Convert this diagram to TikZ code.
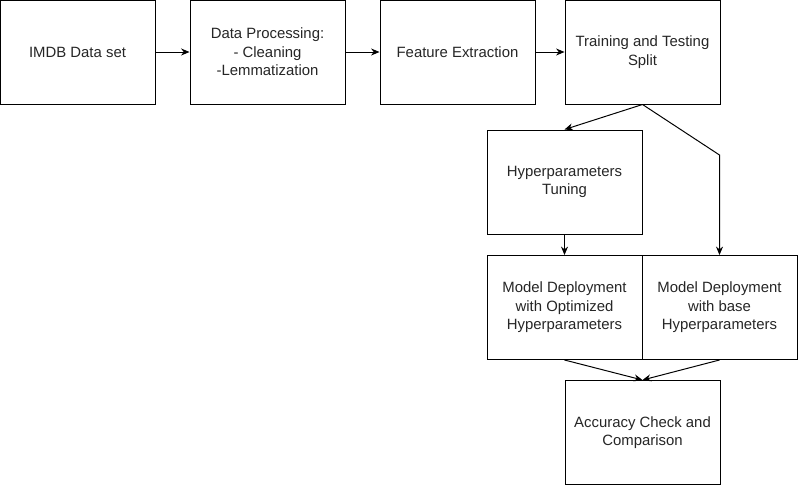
\documentclass[tikz,border=0pt]{standalone}
\usepackage{fontspec}
\setmainfont{Liberation Sans}
\usepackage{tikz}
\usetikzlibrary{shapes,arrows,arrows.meta,positioning}

\begin{document}
\begin{tikzpicture}[node distance=4.75cm, auto, >={Stealth[length=6pt,width=5pt]}, line width=0.7pt]
    % Define styles
    \tikzstyle{stage} = [rectangle, minimum width=3.875cm, minimum height=2.6cm, text centered, align=center, draw=black, fill=white, text=black!85, font=\fontsize{10.6}{13.2}\selectfont]

    \useasboundingbox (0,0) rectangle (19.975,-12.15);

    % Nodes
    \node[stage] (imdb) at (1.9375,-1.3) {IMDB Data set};
    \node[stage, right of=imdb] (processing) {Data Processing:\\- Cleaning\\-Lemmatization};
    \node[stage, right of=processing] (features) {Feature Extraction};
    \node[stage, right of=features, xshift=-0.125cm] (split) {Training and Testing\\Split};
    \node[stage, below of=split, xshift=-1.95cm, yshift=1.5cm] (tuning) {Hyperparameters\\Tuning};
    \node[stage, below of=tuning, yshift=1.6125cm] (optimized) {Model Deployment\\with Optimized\\Hyperparameters};
    \node[stage, right of=optimized, xshift=-0.875cm] (base) {Model Deployment\\with base\\Hyperparameters};
    \node[stage, below of=optimized, xshift=1.95cm, yshift=1.625cm] (accuracy) {Accuracy Check and\\Comparison};

    % Connections
    \draw[->] (imdb) -- (processing);
    \draw[->] (processing) -- (features);
    \draw[->] (features) -- (split);
    \draw[->] (split.south) -- (tuning.north);
    \draw[->] (split.south) -- ([yshift=2.5cm]base.north) -- (base.north);
    \draw[->] (tuning) -- (optimized);
    \draw[->] (optimized.south) -- (accuracy.north);
    \draw[->] (base.south) -- (accuracy.north);
\end{tikzpicture}
\end{document}
